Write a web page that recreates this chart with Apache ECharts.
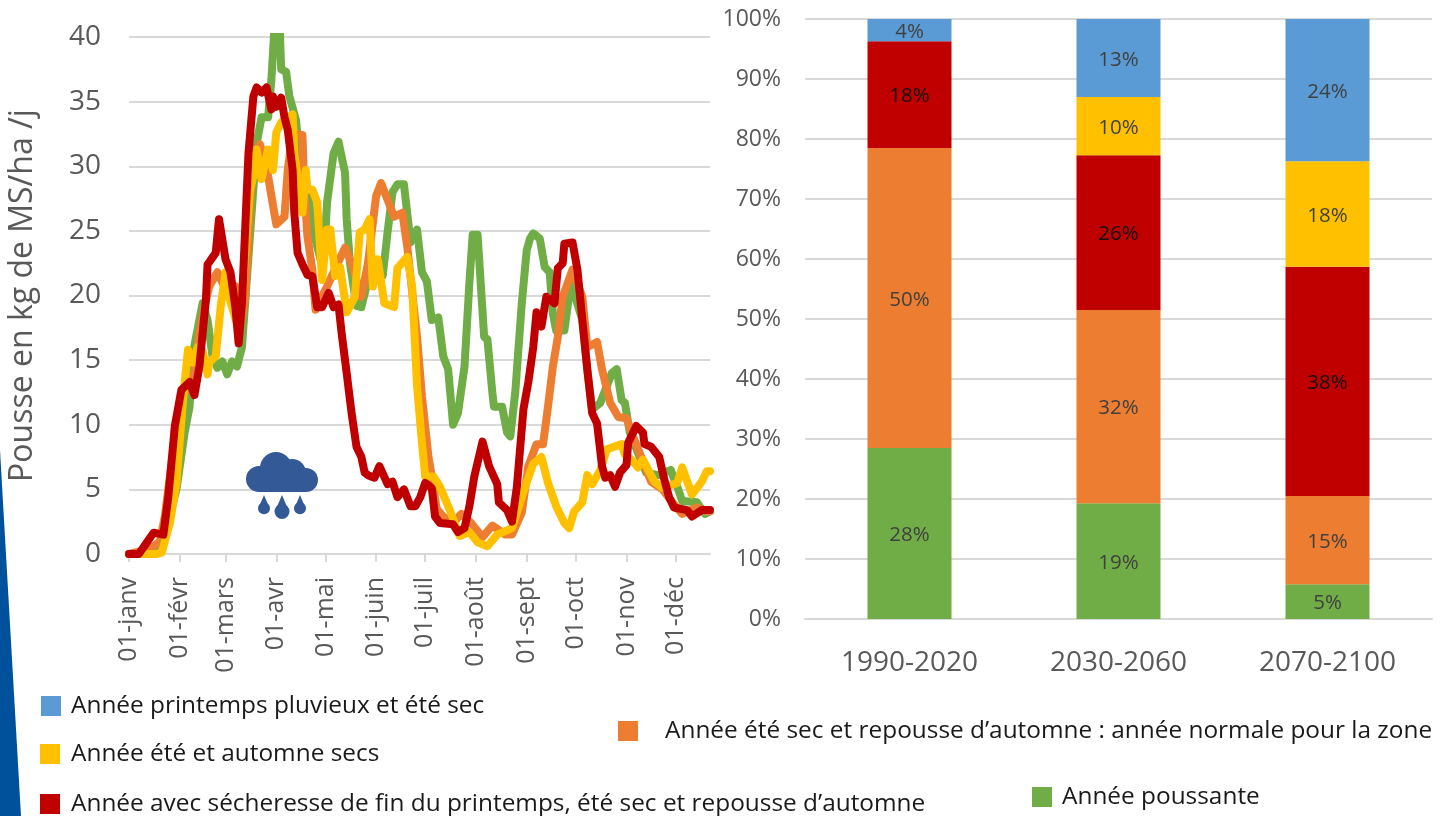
<!DOCTYPE html>
<html>
<head>
<meta charset="utf-8">
<style>
html, body { margin: 0; padding: 0; background: #fff; }
#chart { width: 1443px; height: 816px; }
</style>
<script src="https://cdn.jsdelivr.net/npm/echarts@6/dist/echarts.min.js"></script>
</head>
<body>
<div id="chart"></div>
<script>
// pousse journaliere : jour de l'annee (0 = 1er janv) / kg MS/ha/j
var monthStarts = [0, 31, 59, 90, 120, 151, 181, 212, 243, 273, 304, 334];
var monthLabels = ['01-janv', '01-févr', '01-mars', '01-avr', '01-mai', '01-juin', '01-juil', '01-août', '01-sept', '01-oct', '01-nov', '01-déc'];

var greenDays = [0,13,19,24,29,34,37,39,41,45,48,51,54,57,60,63,66,69,71,78,81,85,87,89,92,93,96,98,102,104,109,112,117,120,121,125,128,132,133,135,139,142,146,155,158,161,164,168,172,176,179,182,185,189,192,195,198,201,205,208,210,213,217,219,222,223,228,231,233,236,240,243,245,247,251,254,257,259,261,266,270,277,280,283,288,292,295,298,301,303,306,312,316,323,331,335,338,347,352,355];
var greenValues = [0,0,1,2.5,5,9.4,11.4,15.5,16.8,19.4,18.1,15.3,14.4,14.9,13.9,14.9,14.5,16,19.5,31.8,33.8,33.8,36.7,41,41,37.5,37.3,35.4,33.6,31,28.4,25.3,22.8,24.9,27.2,31,31.9,29.5,25.9,22.5,19.2,19.1,21.2,21.5,24.9,28,28.6,28.6,24.1,25.1,21.8,21.1,18.1,18.3,15.3,14.3,10,10.9,14.5,21,24.7,24.7,16.8,16.6,12.5,11.4,11.4,9.4,9.1,12.5,19.4,23.5,24.4,24.8,24.4,22.2,21.8,18.6,17.3,17.3,21,18.1,14.3,11.2,11.7,13,14,14.3,11.9,11.7,9.4,7.5,6.3,6.1,6.5,5.2,4.1,4,3.1,3.3];

var orangeDays = [0,10,14,19,22,26,31,36,40,43,46,49,54,59,65,67,71,74,77,80,84,87,90,95,97,100,106,107,109,112,114,121,125,132,136,142,146,151,154,158,162,167,170,176,179,183,185,188,192,198,203,209,216,222,230,234,240,244,249,253,256,259,262,265,271,277,280,286,289,294,299,304,308,313,319,326,332,338,347,353,355];
var orangeValues = [0,0.3,0.5,1,3,7,11.5,13,14,17,19,20.7,21.8,20.5,20.7,17,19.7,27.4,31,31.7,30,27.7,25.5,26.1,29.7,32.6,32.4,28.4,24.6,22,18.9,20.7,21.8,23.7,22.5,19.9,22.5,27.7,28.7,27.4,26.1,26.4,23.8,16.8,12.2,7.5,6,3.5,2.9,2.4,3.1,2.4,1.3,2.2,1.5,1.5,3.2,6.8,8.5,8.5,11.4,14.5,16.8,19.9,22,19.9,16,16.4,14.3,11.7,10.6,10.5,9.1,7.5,5.6,5,4,3.1,3.6,3.3,3.3];

var yellowDays = [0,17,20,25,29,33,36,39,42,45,48,49,53,56,59,62,67,68,74,76,78,81,85,88,90,93,100,101,106,108,109,112,115,118,121,123,126,129,133,138,141,144,147,149,152,156,162,164,170,173,176,179,181,186,190,196,202,208,213,219,225,234,241,247,252,256,261,266,269,272,277,280,283,288,292,301,303,307,311,314,321,326,335,338,344,350,353,355];
var yellowValues = [0,0,0.1,2.4,5.5,11.9,15.8,14.8,16,15.7,13.9,14.8,15.3,19.1,21.8,19.5,17.4,18.1,28.2,29.2,31.3,29,31.3,29.7,32.6,33.4,34,31,26.4,29.7,28.2,28.2,27.2,21.2,25.1,25.1,21.5,22.2,18.7,19.9,24.9,25.1,25.9,20.7,22.8,19.4,19.1,22.1,23,20.7,13,8.6,6,6,5.2,3.4,1.4,1.7,0.9,0.6,1.5,2,4.8,7,7.5,5.5,3.7,2.4,2,3.3,4,6.1,5.4,6.5,8.1,8.5,7.7,7.3,6.7,7.3,5.6,5.1,5.5,6.7,4.6,5.6,6.4,6.4];

var redDays = [0,6,15,21,24,28,32,37,40,43,47,48,53,55,59,62,65,67,69,73,76,78,81,84,87,88,90,93,95,97,100,101,103,106,109,112,115,118,122,125,128,130,133,136,139,142,144,146,150,153,158,161,164,168,172,175,178,181,185,187,190,198,201,205,208,211,216,220,225,226,231,234,237,241,244,247,249,252,255,260,262,265,266,271,274,277,280,283,286,289,291,294,297,300,304,305,310,314,315,319,324,327,330,333,341,344,350,355];
var redValues = [0,0,1.65,1.5,4.4,9.9,12.7,13.3,12.3,14.5,19.7,22.4,23.3,25.9,22.8,21.8,19.1,16.3,19.4,31,35.4,36.1,35.7,36.1,34.4,35.4,34.6,35.3,33.8,32.8,29.7,26.4,23.3,22.4,21.6,21.5,19.1,19.1,20.2,19.1,19.3,17,14,10.9,8.3,7.5,6.3,6.1,5.9,6.8,5.4,5.6,4.4,5,3.7,3.7,4.4,5.5,5.1,2.9,2.4,2.3,1.7,2,3.7,6,8.7,6.8,5.4,4,3.4,2.5,5.2,11.2,13.3,16,18.7,17.6,19.9,19.4,22.1,22.5,24,24.1,22,18.1,14.3,10.9,10.1,6.8,5.9,6.1,5.2,6.3,6.9,8.6,9.9,9.4,8.5,8.3,7.5,5.8,4.4,3.6,3.4,2.9,3.4,3.4];

// repartition des types d'annee par periode
var periods = ['1990-2020', '2030-2060', '2070-2100'];
var shareGreen = [28.5, 19.3, 5.8];
var shareOrange = [50, 32.2, 14.7];
var shareRed = [17.8, 25.8, 38.2];
var shareYellow = [0, 9.7, 17.6];
var shareBlue = [3.7, 13, 23.7];
var labelsGreen = ['28%', '19%', '5%'];
var labelsOrange = ['50%', '32%', '15%'];
var labelsRed = ['18%', '26%', '38%'];
var labelsYellow = ['', '10%', '18%'];
var labelsBlue = ['4%', '13%', '24%'];

var nameBlue = 'Année printemps pluvieux et été sec';
var nameYellow = 'Année été et automne secs';
var nameRed = 'Année avec sécheresse de fin du printemps, été sec et repousse d’automne';
var nameOrange = 'Année été sec et repousse d’automne : année normale pour la zone';
var nameGreen = 'Année poussante';

var GREEN = '#70AD47', ORANGE = '#ED7D31', RED = '#C00000', YELLOW = '#FFC000', BLUE = '#5B9BD5';
var GRID = '#D9D9D9', TICK = '#595959', CLOUD = '#335A96', FONT = '"Open Sans", sans-serif';

function pairs(days, values) {
	return days.map(function (d, i) { return [d, values[i]]; });
}
function lineSerie(color, days, values) {
	return {
		type: 'line',
		xAxisIndex: 0,
		yAxisIndex: 0,
		showSymbol: false,
		silent: true,
		data: pairs(days, values),
		lineStyle: { color: color, width: 8, cap: 'round', join: 'round' }
	};
}
function barSerie(name, color, values, labels) {
	return {
		name: name,
		type: 'bar',
		stack: 'part',
		xAxisIndex: 1,
		yAxisIndex: 1,
		barWidth: 84,
		data: values,
		itemStyle: { color: color },
		label: {
			show: true,
			position: 'inside',
			offset: [0, 2],
			fontFamily: FONT,
			fontSize: 20.5,
			color: color == RED ? '#111' : '#404040',
			formatter: function (p) { return labels[p.dataIndex]; }
		}
	};
}
function legendItem(name, left, top, textGap) {
	return {
		data: [name],
		left: left,
		top: top,
		icon: 'rect',
		itemWidth: 20,
		itemHeight: 20,
		selectedMode: false,
		padding: 0,
		textStyle: { fontFamily: FONT, fontSize: 24.4, color: '#1a1a1a', padding: [0, 0, 0, textGap] }
	};
}
function cloudPart(cx, cy, r) {
	return { type: 'circle', shape: { cx: cx, cy: cy, r: r }, style: { fill: CLOUD }, z: 10 };
}
function drop(cx, top, r) {
	return {
		type: 'group',
		z: 10,
		children: [
			{ type: 'polygon', shape: { points: [[cx, top], [cx + r - 0.4, top + 2.2 * r], [cx - r + 0.4, top + 2.2 * r]] }, style: { fill: CLOUD }, z: 10 },
			{ type: 'circle', shape: { cx: cx, cy: top + 2.2 * r, r: r }, style: { fill: CLOUD }, z: 10 }
		]
	};
}

var option = {
	animation: false,
	backgroundColor: '#fff',
	grid: [
		{ left: 129, right: 733, top: 37, bottom: 262 },
		{ left: 805, right: 11, top: 19, bottom: 197 }
	],
	xAxis: [
		{
			type: 'value',
			gridIndex: 0,
			min: 0,
			max: 355,
			splitLine: { show: false },
			axisLine: { show: true, lineStyle: { color: GRID, width: 2 } },
			axisTick: { show: true, customValues: monthStarts, length: 8, lineStyle: { color: GRID, width: 2 } },
			axisLabel: {
				customValues: monthStarts,
				rotate: 90,
				margin: 23,
				fontFamily: FONT,
				fontSize: 25,
				color: TICK,
				formatter: function (v) { return monthLabels[monthStarts.indexOf(v)]; }
			}
		},
		{
			type: 'category',
			gridIndex: 1,
			data: periods,
			axisLine: { lineStyle: { color: GRID, width: 2 } },
			axisTick: { show: false },
			axisLabel: { margin: 30, fontFamily: FONT, fontSize: 28, color: TICK }
		}
	],
	yAxis: [
		{
			type: 'value',
			gridIndex: 0,
			min: 0,
			max: 40,
			interval: 5,
			name: 'Pousse en kg de MS/ha /j',
			nameLocation: 'middle',
			nameGap: 90,
			nameTextStyle: { fontFamily: FONT, fontSize: 32, color: TICK },
			axisLine: { show: false },
			axisTick: { show: false },
			splitLine: { lineStyle: { color: GRID, width: 2 } },
			axisLabel: { margin: 28, padding: [2, 0, 0, 0], fontFamily: FONT, fontSize: 28, color: TICK }
		},
		{
			type: 'value',
			gridIndex: 1,
			min: 0,
			max: 100,
			interval: 10,
			axisLine: { show: false },
			axisTick: { show: false },
			splitLine: { lineStyle: { color: GRID, width: 2 } },
			axisLabel: { margin: 24, padding: [2, 0, 0, 0], fontFamily: FONT, fontSize: 23, color: TICK, formatter: '{value}%' }
		}
	],
	legend: [
		legendItem(nameBlue, 41, 694, 5),
		legendItem(nameYellow, 40, 742, 6),
		legendItem(nameRed, 40, 792, 6),
		legendItem(nameOrange, 618, 719, 22),
		legendItem(nameGreen, 1032, 785, 5)
	],
	series: [
		barSerie(nameGreen, GREEN, shareGreen, labelsGreen),
		barSerie(nameOrange, ORANGE, shareOrange, labelsOrange),
		barSerie(nameRed, RED, shareRed, labelsRed),
		barSerie(nameYellow, YELLOW, shareYellow, labelsYellow),
		barSerie(nameBlue, BLUE, shareBlue, labelsBlue),
		lineSerie(GREEN, greenDays, greenValues),
		lineSerie(ORANGE, orangeDays, orangeValues),
		lineSerie(YELLOW, yellowDays, yellowValues),
		lineSerie(RED, redDays, redValues)
	],
	graphic: [
		// bandeau bleu a gauche
		{ type: 'polygon', shape: { points: [[0, 450], [21, 816], [0, 816]] }, style: { fill: '#00519C' } },
		// picto pluie
		cloudPart(259, 479, 13),
		cloudPart(276, 468, 16),
		cloudPart(292, 473, 14),
		cloudPart(306, 480, 12),
		{ type: 'rect', shape: { x: 259, y: 472, width: 47, height: 20 }, style: { fill: CLOUD }, z: 10 },
		drop(264, 495, 6),
		drop(282, 495, 7.5),
		drop(300, 495, 6)
	]
};

var chart = echarts.init(document.getElementById('chart'));
chart.setOption(option);
</script>
</body>
</html>
